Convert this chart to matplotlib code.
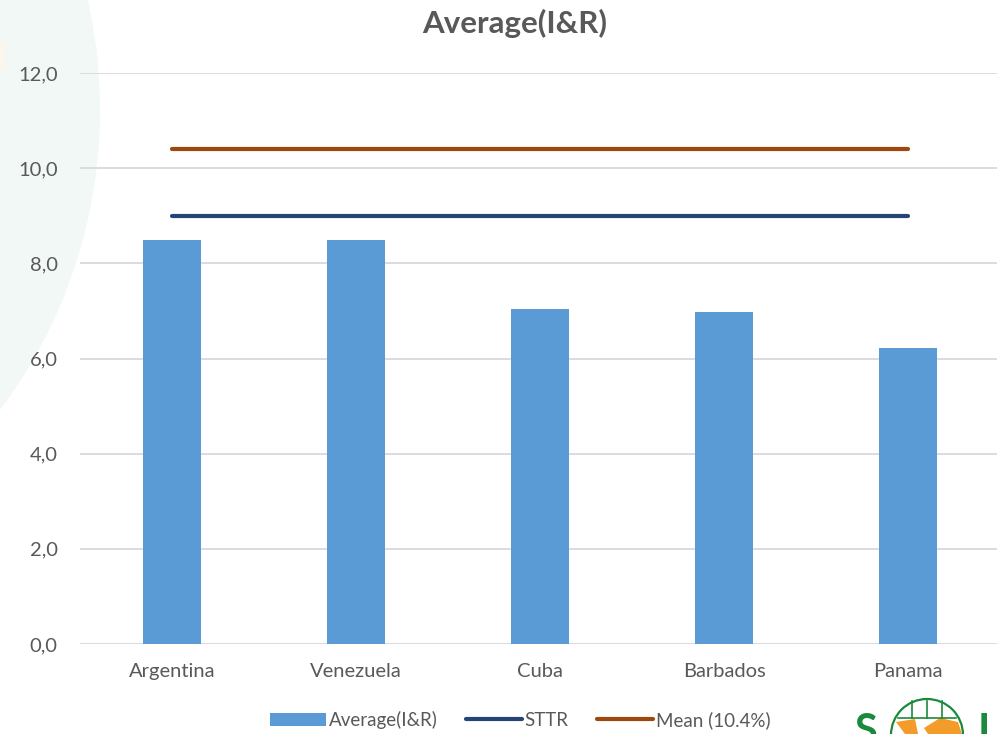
import matplotlib
matplotlib.use("Agg")
import matplotlib.pyplot as plt
from matplotlib.patches import Circle, Ellipse, Polygon, Rectangle
from matplotlib.lines import Line2D
import numpy as np

plt.rcParams['font.family'] = ['Lato', 'DejaVu Sans']

# Data
countries = ["Argentina", "Venezuela", "Cuba", "Barbados", "Panama"]
average_ir = [8.49, 8.49, 7.03, 6.98, 6.22]
sttr = [9.0, 9.0, 9.0, 9.0, 9.0]
mean_line = [10.4, 10.4, 10.4, 10.4, 10.4]
y_ticks = [0, 2, 4, 6, 8, 10, 12]
y_tick_labels = ["0,0", "2,0", "4,0", "6,0", "8,0", "10,0", "12,0"]

W, H = 997, 734
fig = plt.figure(figsize=(W / 100, H / 100), dpi=100)
fig.patch.set_facecolor("white")

# Decorative background layer in pixel coordinates
bg = fig.add_axes([0, 0, 1, 1], zorder=0)
bg.set_xlim(0, W)
bg.set_ylim(H, 0)
bg.axis("off")
bg.add_patch(Circle((-400, 110), 500, facecolor="#f1f8f5", edgecolor="none"))
bg.add_patch(Ellipse((0, 56), 10, 30, facecolor="#fdf6ea", edgecolor="none"))

# Main chart
ax = fig.add_axes([80 / W, 90 / H, 920 / W, 571 / H], zorder=1)
ax.set_facecolor("none")
x = np.arange(len(countries))
ax.bar(x, average_ir, width=0.32, color="#5b9bd5", zorder=2, label="Average(I&R)")
ax.plot(x, sttr, color="#264478", lw=3.0, solid_capstyle="round", zorder=3, label="STTR")
ax.plot(x, mean_line, color="#9e480e", lw=3.0, solid_capstyle="round", zorder=3, label="Mean (10.4%)")

ax.set_xlim(-0.5, 4.5)
ax.set_ylim(0, 12)
ax.set_yticks(y_ticks)
ax.set_yticklabels(y_tick_labels)
ax.set_xticks(x)
ax.set_xticklabels(countries)
ax.tick_params(axis="both", length=0, labelsize=14.5, labelcolor="#595959")
ax.tick_params(axis="y", pad=16)
ax.tick_params(axis="x", pad=14)
for s in ax.spines.values():
    s.set_visible(False)
ax.grid(axis="y", color="#d9d9d9", lw=1.3, zorder=0)
ax.set_axisbelow(True)

fig.text(515 / W, 1 - 23 / H, "Average(I&R)", ha="center", va="center",
         fontsize=22.5, fontweight="bold", color="#595959")

handles = [Rectangle((0, 0), 1, 1, facecolor="#5b9bd5", edgecolor="none"),
           Line2D([], [], color="#264478", lw=3.0, solid_capstyle="round"),
           Line2D([], [], color="#9e480e", lw=3.0, solid_capstyle="round")]
fig.legend(handles, ["Average(I&R)", "STTR", "Mean (10.4%)"], loc="center",
           bbox_to_anchor=(520 / W, 1 - 720 / H), ncol=3, frameon=False,
           fontsize=13.5, labelcolor="#595959", handlelength=3.0,
           handleheight=0.7, handletextpad=0.15, columnspacing=1.5)

# Logo in the bottom-right corner
lg = fig.add_axes([0, 0, 1, 1], zorder=3)
lg.set_xlim(0, W)
lg.set_ylim(H, 0)
lg.axis("off")
lg.text(865, 744, "S", ha="center", va="baseline", fontsize=30,
        fontweight="bold", color="#1a8a3c")
lg.text(988, 744, "L", ha="center", va="baseline", fontsize=30,
        fontweight="bold", color="#1a8a3c")
lg.add_patch(Circle((927, 735), 36, facecolor="white", edgecolor="#1a8a3c", lw=1.6))
for px in [912, 927, 942]:
    lg.plot([px, px], [701, 718], color="#1a8a3c", lw=1.2)
lg.plot([898, 956], [718, 718], color="#1a8a3c", lw=1.2)
lg.add_patch(Polygon([[896, 722], [915, 719], [918, 734], [905, 734]],
                     facecolor="#f39c2a", edgecolor="none"))
lg.add_patch(Polygon([[924, 728], [940, 718], [958, 722], [962, 734], [928, 734]],
                     facecolor="#f39c2a", edgecolor="none"))

fig.savefig("out.png", dpi=100)
